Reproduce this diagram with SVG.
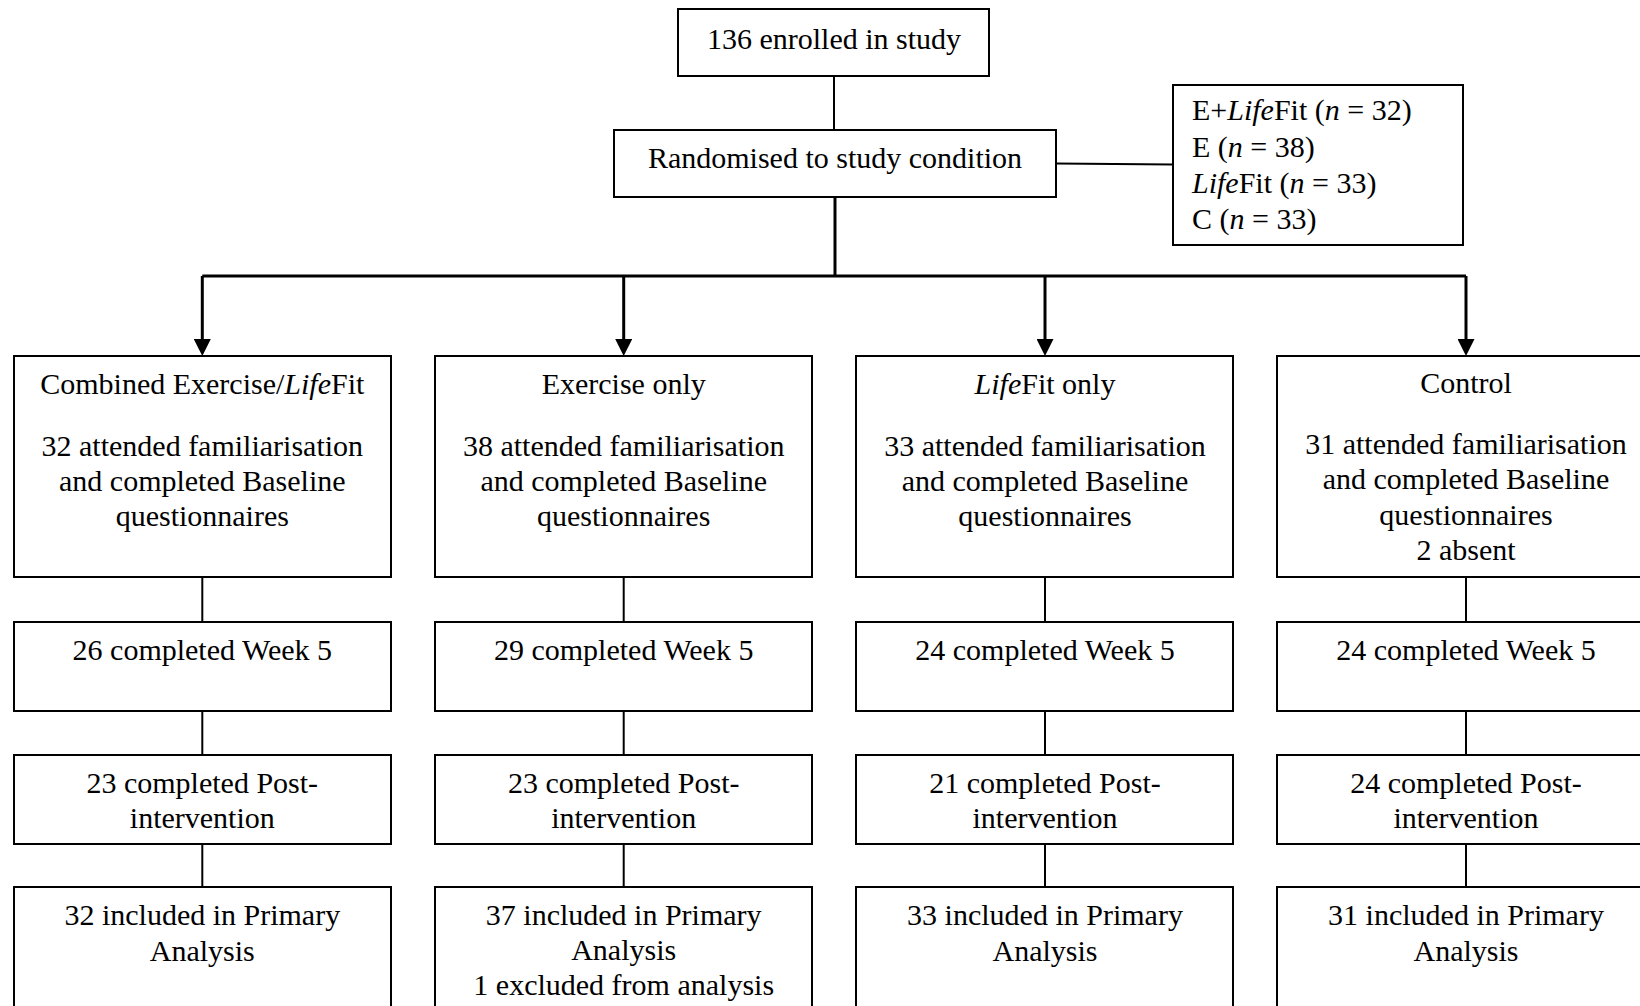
<svg xmlns="http://www.w3.org/2000/svg" width="1640" height="1006" viewBox="0 0 1640 1006">
<defs>
<style>
.box{fill:#fff;stroke:#000;stroke-width:2}
.t{font-family:"Liberation Serif","Times New Roman",serif;font-size:30px;fill:#000;text-anchor:middle}
.tl{font-family:"Liberation Serif","Times New Roman",serif;font-size:30px;fill:#000}
.i{font-style:italic}
.ln{stroke:#000;stroke-width:2;fill:none}
.thick{stroke:#000;stroke-width:3;fill:none}
</style>
<marker id="arr" markerUnits="userSpaceOnUse" markerWidth="17" markerHeight="17" refX="0" refY="8.5" orient="auto">
<path d="M0,0 L17,8.5 L0,17 Z" fill="#000"/>
</marker>
</defs>
<rect width="1640" height="1006" fill="#fff"/>
<g id="connectors">
<line class="ln" x1="834" y1="76" x2="834" y2="130"/>
<line class="thick" x1="835" y1="197" x2="835" y2="276"/>
<line class="ln" x1="1056" y1="163.5" x2="1173" y2="164.5"/>
<line class="thick" x1="202.3" y1="276" x2="1466" y2="276"/>
<line class="thick" x1="202.3" y1="276" x2="202.3" y2="339" marker-end="url(#arr)"/>
<line class="thick" x1="623.7" y1="276" x2="623.7" y2="339" marker-end="url(#arr)"/>
<line class="thick" x1="1045" y1="276" x2="1045" y2="339" marker-end="url(#arr)"/>
<line class="thick" x1="1466" y1="276" x2="1466" y2="339" marker-end="url(#arr)"/>
<line class="ln" x1="202.3" y1="577" x2="202.3" y2="622"/>
<line class="ln" x1="202.3" y1="711" x2="202.3" y2="755"/>
<line class="ln" x1="202.3" y1="844" x2="202.3" y2="887"/>
<line class="ln" x1="623.7" y1="577" x2="623.7" y2="622"/>
<line class="ln" x1="623.7" y1="711" x2="623.7" y2="755"/>
<line class="ln" x1="623.7" y1="844" x2="623.7" y2="887"/>
<line class="ln" x1="1045" y1="577" x2="1045" y2="622"/>
<line class="ln" x1="1045" y1="711" x2="1045" y2="755"/>
<line class="ln" x1="1045" y1="844" x2="1045" y2="887"/>
<line class="ln" x1="1466" y1="577" x2="1466" y2="622"/>
<line class="ln" x1="1466" y1="711" x2="1466" y2="755"/>
<line class="ln" x1="1466" y1="844" x2="1466" y2="887"/>
</g>
<g id="enrolled">
<rect class="box" x="678" y="9" width="311" height="67"/>
<text class="t" x="834" y="49">136 enrolled in study</text>
</g>
<g id="randomised">
<rect class="box" x="614" y="130" width="442" height="67"/>
<text class="t" x="835" y="168">Randomised to study condition</text>
</g>
<g id="allocation">
<rect class="box" x="1173" y="85" width="290" height="160"/>
<text class="tl" x="1192" y="120">E+<tspan class="i">Life</tspan>Fit (<tspan class="i">n</tspan> = 32)</text>
<text class="tl" x="1192" y="156.5">E (<tspan class="i">n</tspan> = 38)</text>
<text class="tl" x="1192" y="193"><tspan class="i">Life</tspan>Fit (<tspan class="i">n</tspan> = 33)</text>
<text class="tl" x="1192" y="229">C (<tspan class="i">n</tspan> = 33)</text>
</g>
<g id="combined">
<rect class="box" x="14" y="356" width="377" height="221"/>
<text class="t" x="202.3" y="394">Combined Exercise/<tspan class="i">Life</tspan>Fit</text>
<text class="t" x="202.3" y="456">32 attended familiarisation</text>
<text class="t" x="202.3" y="491">and completed Baseline</text>
<text class="t" x="202.3" y="526">questionnaires</text>
</g>
<g id="exercise">
<rect class="box" x="435" y="356" width="377" height="221"/>
<text class="t" x="623.7" y="394">Exercise only</text>
<text class="t" x="623.7" y="456">38 attended familiarisation</text>
<text class="t" x="623.7" y="491">and completed Baseline</text>
<text class="t" x="623.7" y="526">questionnaires</text>
</g>
<g id="lifefit">
<rect class="box" x="856" y="356" width="377" height="221"/>
<text class="t" x="1045" y="394"><tspan class="i">Life</tspan>Fit only</text>
<text class="t" x="1045" y="456">33 attended familiarisation</text>
<text class="t" x="1045" y="491">and completed Baseline</text>
<text class="t" x="1045" y="526">questionnaires</text>
</g>
<g id="control">
<rect class="box" x="1277" y="356" width="377" height="221"/>
<text class="t" x="1466" y="393">Control</text>
<text class="t" x="1466" y="453.5">31 attended familiarisation</text>
<text class="t" x="1466" y="489">and completed Baseline</text>
<text class="t" x="1466" y="524.5">questionnaires</text>
<text class="t" x="1466" y="560">2 absent</text>
</g>
<g id="week5-combined">
<rect class="box" x="14" y="622" width="377" height="89"/>
<text class="t" x="202.3" y="660">26 completed Week 5</text>
</g>
<g id="week5-exercise">
<rect class="box" x="435" y="622" width="377" height="89"/>
<text class="t" x="623.7" y="660">29 completed Week 5</text>
</g>
<g id="week5-lifefit">
<rect class="box" x="856" y="622" width="377" height="89"/>
<text class="t" x="1045" y="660">24 completed Week 5</text>
</g>
<g id="week5-control">
<rect class="box" x="1277" y="622" width="377" height="89"/>
<text class="t" x="1466" y="660">24 completed Week 5</text>
</g>
<g id="post-combined">
<rect class="box" x="14" y="755" width="377" height="89"/>
<text class="t" x="202.3" y="793">23 completed Post-</text>
<text class="t" x="202.3" y="828">intervention</text>
</g>
<g id="post-exercise">
<rect class="box" x="435" y="755" width="377" height="89"/>
<text class="t" x="623.7" y="793">23 completed Post-</text>
<text class="t" x="623.7" y="828">intervention</text>
</g>
<g id="post-lifefit">
<rect class="box" x="856" y="755" width="377" height="89"/>
<text class="t" x="1045" y="793">21 completed Post-</text>
<text class="t" x="1045" y="828">intervention</text>
</g>
<g id="post-control">
<rect class="box" x="1277" y="755" width="377" height="89"/>
<text class="t" x="1466" y="793">24 completed Post-</text>
<text class="t" x="1466" y="828">intervention</text>
</g>
<g id="primary-combined">
<rect class="box" x="14" y="887" width="377" height="140"/>
<text class="t" x="202.3" y="925">32 included in Primary</text>
<text class="t" x="202.3" y="961">Analysis</text>
</g>
<g id="primary-exercise">
<rect class="box" x="435" y="887" width="377" height="140"/>
<text class="t" x="623.7" y="925">37 included in Primary</text>
<text class="t" x="623.7" y="960">Analysis</text>
<text class="t" x="623.7" y="995">1 excluded from analysis</text>
</g>
<g id="primary-lifefit">
<rect class="box" x="856" y="887" width="377" height="140"/>
<text class="t" x="1045" y="925">33 included in Primary</text>
<text class="t" x="1045" y="961">Analysis</text>
</g>
<g id="primary-control">
<rect class="box" x="1277" y="887" width="377" height="140"/>
<text class="t" x="1466" y="925">31 included in Primary</text>
<text class="t" x="1466" y="961">Analysis</text>
</g>
</svg>
